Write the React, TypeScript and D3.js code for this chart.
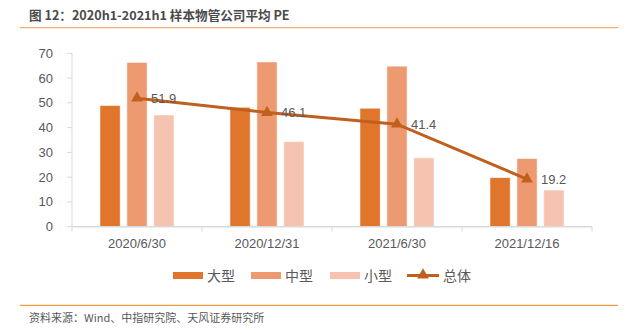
import React from "react";
import * as d3 from "d3";

const categories = ["2020/6/30", "2020/12/31", "2021/6/30", "2021/12/16"];
const seriesNames = ["大型", "中型", "小型"];
const large = [48.9, 48.2, 47.8, 19.8];
const medium = [66.3, 66.5, 64.8, 27.5];
const small = [45.1, 34.3, 27.8, 14.8];
const total = [51.9, 46.1, 41.4, 19.2];
const yTicks = [0, 10, 20, 30, 40, 50, 60, 70];
const lineName = "总体";

const barColors = ["#E0762C", "#EE9A70", "#F5C3AF"];
const lineColor = "#C0601E";
const textColor = "#595959";
const font = "'Liberation Sans', 'Noto Sans CJK SC', sans-serif";

export default function App() {
  const W = 629, H = 334;
  const x0 = 72, x1 = 592;
  const y = d3.scaleLinear().domain([0, 70]).range([226.7, 53.3]);
  const x = d3.scaleBand().domain(categories).range([x0, x1]).padding(0);
  const inner = d3.scaleBand().domain(seriesNames).range([-37, 37]).paddingInner(0.25).paddingOuter(0);
  const series = [large, medium, small];
  const cx = (c: string) => (x(c) as number) + x.bandwidth() / 2;
  const line = d3.line<number>().x((_, i) => cx(categories[i])).y((d) => y(d));
  const tri = d3.symbol().type(d3.symbolTriangle).size(60);

  const legendItems = [
    { name: seriesNames[0], x: 173, color: barColors[0] },
    { name: seriesNames[1], x: 251, color: barColors[1] },
    { name: seriesNames[2], x: 330, color: barColors[2] },
  ];

  return (
    <svg width={W} height={H} style={{ position: "absolute", left: 0, top: 0 }} fontFamily={font}>
      <rect width={W} height={H} fill="#fff" />
      <text x={29} y={20} fontSize={12.6} fontWeight="bold" fill="#4a4a4a" fontFamily="'Noto Sans CJK SC', sans-serif">
        图 12：2020h1-2021h1 样本物管公司平均 PE
      </text>
      <line x1={20} x2={618} y1={27.7} y2={27.7} stroke="#F5AA70" strokeWidth={1.3} />

      {/* y axis */}
      <line x1={x0} x2={x0} y1={y(70)} y2={y(0)} stroke="#D9D9D9" strokeWidth={1} />
      {yTicks.map((t) => (
        <g key={t}>
          <line x1={x0 - 5} x2={x0} y1={y(t)} y2={y(t)} stroke="#D9D9D9" />
          <text x={53} y={y(t)} dy="0.35em" textAnchor="end" fontSize={13} fill={textColor}>{t}</text>
        </g>
      ))}

      {/* bars */}
      {series.map((s, si) =>
        s.map((v, i) => (
          <rect
            key={si + "-" + i}
            x={cx(categories[i]) + (inner(seriesNames[si]) as number)}
            y={y(v)}
            width={inner.bandwidth()}
            height={y(0) - y(v)}
            fill={barColors[si]}
            stroke="#fff"
            strokeOpacity={0.6}
            strokeWidth={0.8}
          />
        ))
      )}

      {/* x axis */}
      <line x1={x0} x2={x1} y1={y(0)} y2={y(0)} stroke="#D9D9D9" strokeWidth={1.5} />
      {[...categories.map((c) => x(c) as number), x1].map((t, i) => (
        <line key={i} x1={t} x2={t} y1={y(0)} y2={y(0) + 5} stroke="#D9D9D9" />
      ))}
      {categories.map((c) => (
        <text key={c} x={cx(c)} y={248} textAnchor="middle" fontSize={13} fill={textColor}>{c}</text>
      ))}

      {/* line */}
      <path d={line(total) || ""} fill="none" stroke={lineColor} strokeWidth={3} />
      {total.map((v, i) => (
        <g key={i}>
          <path d={tri() || ""} transform={`translate(${cx(categories[i])},${y(v)})`} fill={lineColor} />
          <text x={cx(categories[i]) + 14} y={y(v)} dy="0.35em" fontSize={13} fill={textColor}>{v.toFixed(1)}</text>
        </g>
      ))}

      {/* legend */}
      {legendItems.map((it) => (
        <g key={it.name}>
          <rect x={it.x} y={272} width={30} height={7} fill={it.color} />
          <text x={it.x + 34} y={276} dy="0.35em" fontSize={14} fill={textColor} fontFamily="'Noto Sans CJK SC', sans-serif">{it.name}</text>
        </g>
      ))}
      <line x1={407} x2={439} y1={275.5} y2={275.5} stroke={lineColor} strokeWidth={3} />
      <path d={tri() || ""} transform="translate(423,275)" fill={lineColor} />
      <text x={443} y={276} dy="0.35em" fontSize={14} fill={textColor} fontFamily="'Noto Sans CJK SC', sans-serif">{lineName}</text>

      <line x1={20} x2={618} y1={305.3} y2={305.3} stroke="#F29A48" strokeWidth={1.2} />
      <text x={29} y={318} dy="0.35em" fontSize={11} fill={textColor} fontFamily="'Noto Sans CJK SC', sans-serif">
        资料来源：Wind、中指研究院、天风证券研究所
      </text>
    </svg>
  );
}
